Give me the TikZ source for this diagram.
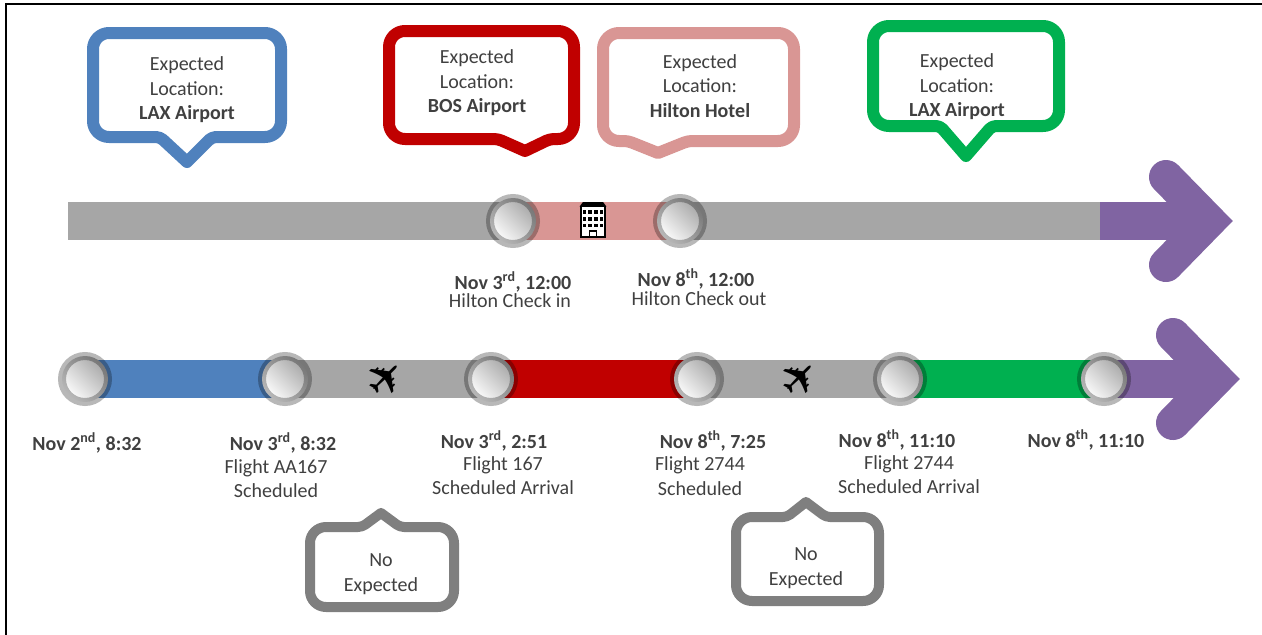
\documentclass[tikz,border=0pt]{standalone}
\usepackage{fontspec}
\setmainfont{Carlito}
\newfontfamily\symfont{DejaVu Sans}
\usetikzlibrary{backgrounds}
\definecolor{evblue}{HTML}{4F81BD}
\definecolor{evred}{HTML}{C00000}
\definecolor{evpink}{HTML}{D99694}
\definecolor{evgreen}{HTML}{00B050}
\definecolor{evpurple}{HTML}{8064A2}
\definecolor{bargray}{HTML}{A6A6A6}
\definecolor{boxgray}{HTML}{7F7F7F}

\begin{document}
\begin{tikzpicture}[x=1pt, y=-1pt,
    txt/.style={text=black!75, font=\fontsize{20}{24.5}\selectfont, align=center, inner sep=0},
    date/.style={txt, font=\bfseries\fontsize{20}{24.5}\selectfont, anchor=base},
    line/.style={txt, anchor=base},
    event/.style={circle, minimum size=46pt, inner sep=0, line width=8pt, draw=black, draw opacity=0.28,
        left color=white, right color=black!35, shading angle=135},
    bar/.style={line width=38pt},
    chevron/.style={line width=34pt, line cap=round, line join=miter},
    callout/.style={line width=12pt, fill=white, rounded corners=16, line join=round},
    plane/.style={font=\symfont\fontsize{46}{46}\selectfont, rotate=45, inner sep=0}]
    \useasboundingbox (0,0) rectangle (1262,635);
    \draw[black, line width=1.3pt] (6,635) -- (6,4) -- (1262,4);

    % hotel stay line
    \coordinate (tstart) at (68,221);
    \coordinate (tend) at (1100,221);
    \coordinate (ttip) at (1209,221);
    \coordinate (ttop) at (1166,177);
    \coordinate (tbot) at (1166,265);
    \node[event] (t1) at (513,221) {};
    \node[event] (t2) at (680,221) {};

    % flight line
    \node[event] (e1) at (85,379) {};
    \node[event] (e2) at (285,379) {};
    \node[event] (e3) at (491,379) {};
    \node[event] (e4) at (697,379) {};
    \node[event] (e5) at (900,379) {};
    \node[event] (e6) at (1104,379) {};
    \coordinate (btip) at (1216,379);
    \coordinate (btop) at (1173,335);
    \coordinate (bbot) at (1173,423);

    \begin{pgfonlayer}{background}
        \draw[bar, bargray] (tstart) -- (tend);
        \draw[bar, evpink] (t1.center) -- (t2.center);
        \draw[bar, evpurple] (tend) -- (ttip);
        \draw[chevron, evpurple] (ttop) -- (ttip) -- (tbot);
        \draw[bar, evblue] (e1.center) -- (e2.center);
        \draw[bar, bargray] (e2.center) -- (e3.center);
        \draw[bar, evred] (e3.center) -- (e4.center);
        \draw[bar, bargray] (e4.center) -- (e5.center);
        \draw[bar, evgreen] (e5.center) -- (e6.center);
        \draw[bar, evpurple] (e6.center) -- (btip);
        \draw[chevron, evpurple] (btop) -- (btip) -- (bbot);
    \end{pgfonlayer}

    % hotel icon
    \begin{scope}[shift={(593,220)}, scale=1.12]
        \draw[line width=1.8pt, fill=white] (-11,-12) rectangle (11,15);
        \fill (-12,-12) -- (-9,-16) -- (9,-16) -- (12,-12) -- cycle;
        \foreach \r in {-7,-1,5}
            \foreach \c in {-7.5,-2.5,2.5,7.5}
                \fill (\c-1.6,\r-1.6) rectangle (\c+1.6,\r+1.6);
        \draw[line width=1.5pt] (-3,15) -- (-3,10) -- (3,10) -- (3,15);
    \end{scope}

    \node[plane] (p1) at (386,378) {✈};
    \node[plane] (p2) at (800,378) {✈};

    % expected location callouts
    \draw[callout, draw=evblue] (187,33) -- (281,33) -- (281,137) [rounded corners=4] -- (212,137) [sharp corners] -- (187,162) [rounded corners=4] -- (160,137) [rounded corners=16] -- (93,137) -- (93,33) -- cycle;
    \node[txt] (c1) at (187,90) {Expected\\Location:\\\textbf{LAX Airport}};
    \draw[callout, draw=evred] (480,31) -- (574,31) -- (574,139) [rounded corners=4] -- (550,139) [sharp corners] -- (525,151) [rounded corners=4] -- (498,139) [rounded corners=16] -- (389,139) -- (389,31) -- cycle;
    \node[txt] (c2) at (477,83) {Expected\\Location:\\\textbf{BOS Airport}};
    \draw[callout, draw=evpink] (700,33) -- (794,33) -- (794,141) [rounded corners=4] -- (688,141) [sharp corners] -- (658,153) [rounded corners=4] -- (628,141) [rounded corners=16] -- (603,141) -- (603,33) -- cycle;
    \node[txt] (c3) at (700,86) {Expected\\Location:\\\textbf{Hilton Hotel}};
    \draw[callout, draw=evgreen] (966,26) -- (1059,26) -- (1059,126) [rounded corners=4] -- (992,126) [sharp corners] -- (966,156) [rounded corners=4] -- (940,126) [rounded corners=16] -- (873,126) -- (873,26) -- cycle;
    \node[txt] (c4) at (957,87) {Expected\\Location:\\\textbf{LAX Airport}};

    % no expected callouts
    \draw[callout, draw=boxgray, line width=10pt] (381,607) -- (310,607) -- (310,527) [rounded corners=4] -- (362,527) [sharp corners] -- (381,513) [rounded corners=4] -- (400,527) [rounded corners=16] -- (454,527) -- (454,607) -- cycle;
    \node[txt] (n1) at (381,574) {No\\Expected};
    \draw[callout, draw=boxgray, line width=10pt] (806,601) -- (736,601) -- (736,517) [rounded corners=4] -- (787,517) [sharp corners] -- (806,502) [rounded corners=4] -- (826,517) [rounded corners=16] -- (879,517) -- (879,601) -- cycle;
    \node[txt] (n2) at (806,568) {No\\Expected};

    % hotel labels
    \node[date] (h1d) at (513,289) {Nov 3\textsuperscript{rd}, 12:00};
    \node[line] (h1t) at (510,307) {Hilton Check in};
    \node[date] (h2d) at (696,286) {Nov 8\textsuperscript{th}, 12:00};
    \node[line] (h2t) at (699,305) {Hilton Check out};

    % flight labels
    \node[date] (d1) at (87,450) {Nov 2\textsuperscript{nd}, 8:32};
    \node[date] (d2) at (283,450) {Nov 3\textsuperscript{rd}, 8:32};
    \node[line] (f2) at (276,473) {Flight AA167};
    \node[line] (s2) at (276,497) {Scheduled};
    \node[date] (d3) at (494,448) {Nov 3\textsuperscript{rd}, 2:51};
    \node[line] (f3) at (503,470) {Flight 167};
    \node[line] (s3) at (503,494) {Scheduled Arrival};
    \node[date] (d4) at (713,448) {Nov 8\textsuperscript{th}, 7:25};
    \node[line] (f4) at (700,470) {Flight 2744};
    \node[line] (s4) at (700,495) {Scheduled};
    \node[date] (d5) at (897,447) {Nov 8\textsuperscript{th}, 11:10};
    \node[line] (f5) at (909,469) {Flight 2744};
    \node[line] (s5) at (909,493) {Scheduled Arrival};
    \node[date] (d6) at (1086,447) {Nov 8\textsuperscript{th}, 11:10};
\end{tikzpicture}
\end{document}
